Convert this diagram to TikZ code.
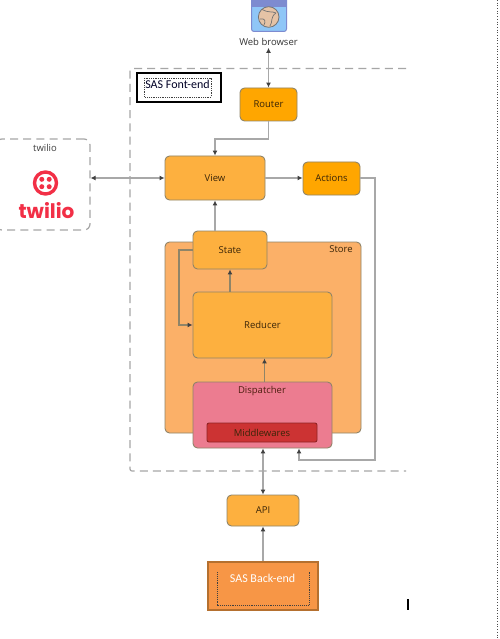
\documentclass[tikz,border=0pt]{standalone}
\usepackage{fontspec}
\setmainfont{Open Sans}
\newfontfamily\calfont{Carlito}
\newfontfamily\logofont{Poppins}
\usetikzlibrary{arrows.meta}
\definecolor{viewfill}{HTML}{FDB03F}
\definecolor{routerfill}{HTML}{FFA600}
\definecolor{storefill}{HTML}{FBB068}
\definecolor{dispfill}{HTML}{EC7C90}
\definecolor{midfill}{HTML}{CC3333}
\definecolor{backfill}{HTML}{F79646}
\definecolor{backline}{HTML}{B5702F}
\definecolor{edge}{HTML}{8F8468}
\definecolor{linegray}{HTML}{A8A8A8}
\definecolor{tipdark}{HTML}{404040}
\definecolor{labeltext}{HTML}{3A2508}
\definecolor{dashgray}{HTML}{A6A6A6}
\definecolor{twred}{HTML}{F22F46}
\definecolor{bluebody}{HTML}{8FC6F7}
\definecolor{bluebar}{HTML}{7D8BD0}
\definecolor{globe}{HTML}{E5C3A6}
\tikzset{
  box/.style={draw=edge,line width=0.9pt,rounded corners=4.5pt,inner sep=0pt,
    font=\fontsize{9.5}{11}\selectfont,text=labeltext},
  conn/.style={draw=linegray,line width=1.3pt},
  onearrow/.style={conn,-{Latex[length=5pt,width=5pt,color=tipdark]}},
  twoarrow/.style={conn,{Latex[length=5pt,width=5pt,color=tipdark]}-{Latex[length=5pt,width=5pt,color=tipdark]}},
  darkconn/.style={draw=edge,line width=1.1pt},
  darkarrow/.style={darkconn,-{Latex[length=5pt,width=5pt,color=tipdark]}},
  frameline/.style={draw=dashgray,line width=1.2pt,dash pattern=on 8pt off 5.2pt},
  plainlabel/.style={inner sep=0pt,font=\fontsize{9.5}{11}\selectfont},
}
\begin{document}
\begin{tikzpicture}[x=1pt,y=-1pt]
\useasboundingbox (0,0) rectangle (499,639);
\fill[white] (0,0) rectangle (499,639);
% page-edge marks
\draw[black!70,line width=0.7pt,dotted] (497.7,0) -- (497.7,639);
\draw[black,line width=1.1pt] (408,599) -- (408,610);
% front-end frame
\draw[frameline] (406,68.5) -- (132,68.5) [rounded corners=2pt] -- (130,68.5) -- (130,471) -- (406,471);
% twilio box
\node[draw=dashgray,line width=1.2pt,dash pattern=on 8pt off 5.2pt,rounded corners=6pt,minimum width=94pt,minimum height=91pt,inner sep=0pt] (twbox) at (43,184.5) {};
\node[plainlabel,text=black!75] (twlabel) at (45,148) {twilio};
\node[draw=twred,line width=3.4pt,circle,minimum size=22pt,inner sep=0pt] (twring) at (45.5,183) {};
\foreach \dx/\dy in {-3.7/-3.7,3.7/-3.7,-3.7/3.7,3.7/3.7}
  \fill[twred] (45.5+\dx,183+\dy) circle (2.5pt);
\node[inner sep=0pt,text=twred,font=\logofont\bfseries\fontsize{20}{21}\selectfont] (twword) at (46.5,211) {twilio};
% browser icon
\fill[bluebody,draw=bluebar,line width=1pt,rounded corners=2.5pt] (251.5,-6) rectangle (286.5,31.5);
\fill[bluebar] (251,-2) rectangle (287,7.5);
\fill[globe,draw=black!55,line width=0.8pt] (268.7,17) circle (10.3pt);
\draw[black!55,line width=0.7pt] (262,9.5) .. controls (268,13) and (272,11) .. (276,13);
\draw[black!55,line width=0.7pt] (276,13) .. controls (270,17) and (273,22) .. (270,26);
\draw[black!55,line width=0.7pt] (260,19) .. controls (265,18) and (266,21) .. (264,25);
\node[plainlabel,text=black!80] (web) at (268.5,42) {Web browser};
% store and boxes
\node[box,fill=storefill,minimum width=196pt,minimum height=191pt] (store) at (263,337.5) {};
\node[plainlabel,text=labeltext] (storelabel) at (341,249.5) {Store};
\node[box,fill=routerfill,minimum width=57pt,minimum height=33pt] (router) at (268.5,104.5) {Router};
\node[box,fill=viewfill,minimum width=100pt,minimum height=44pt] (view) at (215,178) {View};
\node[box,fill=routerfill,minimum width=57pt,minimum height=33pt] (actions) at (331.5,178.5) {Actions};
\node[box,fill=viewfill,minimum width=74pt,minimum height=38pt] (state) at (230,250) {State};
\node[box,fill=viewfill,minimum width=139pt,minimum height=66pt] (reducer) at (262.5,325) {Reducer};
\node[box,fill=dispfill,minimum width=139pt,minimum height=66pt] (disp) at (262.5,415) {};
\node[plainlabel,text=labeltext!85!purple] (displabel) at (262,391) {Dispatcher};
\node[box,draw=midfill!70!black,fill=midfill,minimum width=110pt,minimum height=19pt,rounded corners=2pt] (mid) at (262,432.5) {Middlewares};
\node[box,fill=viewfill,minimum width=72pt,minimum height=31pt] (api) at (263,510.5) {API};
\node[draw=backline,line width=2.6pt,fill=backfill,minimum width=110pt,minimum height=48pt,inner sep=0pt] (back) at (263,586) {};
\draw[black!75,line width=0.9pt,densely dotted] (217,572) -- (217,605) -- (309,605) -- (309,572);
\node[inner sep=0pt,text=white,font=\calfont\fontsize{12}{14}\selectfont] (backlabel) at (262.5,578) {SAS Back-end};
% SAS front-end label
\node[draw=black,line width=2pt,fill=white,minimum width=84pt,minimum height=29pt,inner sep=0pt] (frontbox) at (178.5,88) {};
\draw[black!75,line width=0.8pt,densely dotted] (144.5,78) rectangle (211,97);
\node[inner sep=0pt,text=black!85!blue,font=\calfont\fontsize{12}{14}\selectfont] (frontlabel) at (177.5,84.5) {SAS Font-end};
% connectors
\draw[twoarrow] (web.south) ++(0,2) -- (router.north);
\draw[onearrow] (router.south) |- (215,139) -- (view.north);
\draw[twoarrow] (twbox.east |- view.west) -- (view.west);
\draw[onearrow] (view.east) -- (actions.west |- view.east);
\draw[conn] (actions.east |- view.east) -| (375,300);
\draw[onearrow] (375,300) |- (299,460) -- (disp.south -| 299,0);
\draw[onearrow] (state.north -| view.south) -- (view.south);
\draw[darkarrow] (reducer.north -| state.south) -- (state.south);
\draw[darkarrow] (state.west) -- (179,250) |- (reducer.west);
\draw[darkarrow] (disp.north -| 264.5,0) -- (reducer.south -| 264.5,0);
\draw[twoarrow] (api.north) -- (disp.south -| api.north);
\draw[onearrow] (back.north) -- (api.south);
\end{tikzpicture}
\end{document}
